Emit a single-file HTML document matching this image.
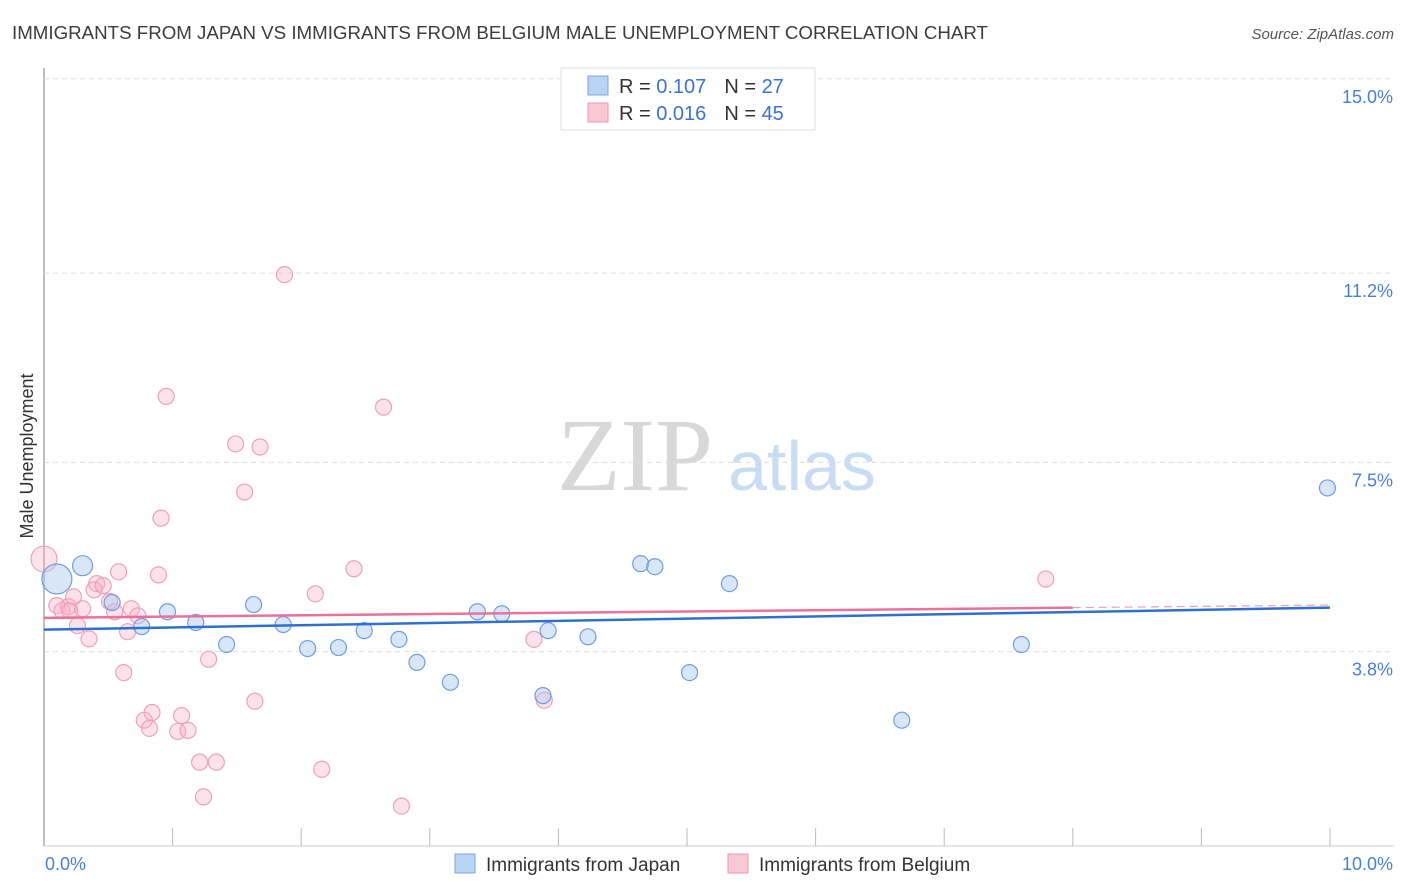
<!DOCTYPE html>
<html><head><meta charset="utf-8">
<style>
body{margin:0;background:#fff;font-family:"Liberation Sans",sans-serif;}
#wrap{position:relative;width:1406px;height:892px;overflow:hidden;}
</style></head>
<body>
<div id="wrap">
<svg id="chart" width="1406" height="892" xmlns="http://www.w3.org/2000/svg">
<text x="12" y="39" font-size="18" fill="#3c3c3c" textLength="976" lengthAdjust="spacingAndGlyphs">IMMIGRANTS FROM JAPAN VS IMMIGRANTS FROM BELGIUM MALE UNEMPLOYMENT CORRELATION CHART</text>
<text x="1394" y="39" font-size="15" fill="#555" font-style="italic" text-anchor="end">Source: ZipAtlas.com</text>
<text transform="translate(33,456) rotate(-90)" font-size="18" fill="#333" text-anchor="middle">Male Unemployment</text>
<g>
<text x="635" y="490" font-size="104" font-family="Liberation Serif,serif" fill="#d8d8d8" text-anchor="middle">ZIP</text>
<text x="802" y="490" font-size="70" fill="#c8dcf3" text-anchor="middle">atlas</text>
</g>
<g id="grid"></g>
<g id="marks"></g>
<g id="trends"></g>
<g>
<rect x="561" y="68" width="254" height="62" fill="#fff" stroke="#ddd"/>
<rect x="588" y="76" width="20" height="19" fill="#b9d3f5" stroke="#7aa6e0"/>
<text x="619" y="93" font-size="20" fill="#333">R = <tspan fill="#3a73d0">0.107</tspan><tspan dx="18">N = </tspan><tspan fill="#3a73d0">27</tspan></text>
<rect x="588" y="103" width="20" height="19" fill="#f9c8d6" stroke="#ec93ae"/>
<text x="619" y="120" font-size="20" fill="#333">R = <tspan fill="#3a73d0">0.016</tspan><tspan dx="18">N = </tspan><tspan fill="#3a73d0">45</tspan></text>
</g>
<g>
<rect x="455" y="854" width="20" height="19" fill="#b9d3f5" stroke="#7aa6e0"/>
<text x="486" y="871" font-size="19" fill="#333">Immigrants from Japan</text>
<rect x="728" y="854" width="20" height="19" fill="#f9c8d6" stroke="#ec93ae"/>
<text x="759" y="871" font-size="19" fill="#333">Immigrants from Belgium</text>
</g>
</svg>
</div>
<script>
const yTicks=[3.8,7.5,11.2,15.0];
const yTickLabels=["3.8%","7.5%","11.2%","15.0%"];
const xTickCount=10;
const japanX=[0.10,0.30,0.53,0.76,0.96,1.18,1.42,1.63,1.86,2.05,2.29,2.49,2.76,2.90,3.16,3.37,3.56,3.88,3.92,4.23,4.64,4.75,5.02,5.33,6.67,7.60,9.98];
const japanY=[5.22,5.48,4.76,4.29,4.58,4.37,3.94,4.72,4.33,3.86,3.88,4.21,4.04,3.59,3.20,4.58,4.54,2.94,4.21,4.09,5.52,5.46,3.39,5.13,2.46,3.94,7.00];
const japanR=[15,10,8,8,8,8,8,8,8,8,8,8,8,8,8,8,8,8,8,8,8,8,8,8,8,8,8];
const belgX=[0.00,0.10,0.14,0.19,0.20,0.23,0.26,0.30,0.35,0.39,0.41,0.46,0.51,0.55,0.58,0.62,0.65,0.68,0.73,0.78,0.84,0.82,0.89,0.91,0.95,1.04,1.07,1.12,1.21,1.24,1.28,1.34,1.49,1.56,1.64,1.68,1.87,2.11,2.16,2.41,2.64,2.78,3.81,3.89,7.79];
const belgY=[5.61,4.70,4.60,4.68,4.60,4.87,4.31,4.64,4.05,5.01,5.13,5.09,4.78,4.58,5.36,3.39,4.19,4.64,4.50,2.46,2.61,2.30,5.30,6.41,8.79,2.24,2.55,2.26,1.64,0.96,3.65,1.64,7.86,6.92,2.83,7.80,11.17,4.93,1.50,5.42,8.58,0.78,4.04,2.85,5.22];
const belgR=[13,8,8,8,8,8,8,8,8,8,8,8,8,8,8,8,8,8,8,8,8,8,8,8,8,8,8,8,8,8,8,8,8,8,8,8,8,8,8,8,8,8,8,8,8];
const japanTrend=[4.23,4.66];
const belgTrend=[4.46,4.66];
const belgTrendEndX=8.0;

const NS="http://www.w3.org/2000/svg";
const X=v=>44+v*128.6;
const Y=v=>846-v*51.15;
function mk(tag,attrs,parent){const e=document.createElementNS(NS,tag);for(const k in attrs)e.setAttribute(k,attrs[k]);parent.appendChild(e);return e;}
const grid=document.getElementById('grid'),marks=document.getElementById('marks'),trends=document.getElementById('trends');
let l=mk('line',{x1:44,y1:68,x2:44,y2:846,stroke:'#aaa','stroke-width':1.5},grid);


l=mk('line',{x1:44,y1:846,x2:1394,y2:846,stroke:'#ccc'},grid);


yTicks.forEach((t,i)=>{
 const g=mk('line',{x1:44,y1:Y(t),x2:1394,y2:Y(t),stroke:'#ddd','stroke-dasharray':'5,4'},grid);
 
 
 const tx=mk('text',{x:1393,y:Y(t)+24,'font-size':18,fill:'#4a7fd4','text-anchor':'end'},grid);
 tx.textContent=yTickLabels[i];
 
 
});
for(let k=1;k<=xTickCount;k++){
 const t=mk('line',{x1:X(k),y1:828,x2:X(k),y2:846,stroke:'#bbb'},grid);
 
 
}
let xl=mk('text',{x:45,y:870,'font-size':18,fill:'#4a7fd4'},grid);xl.textContent='0.0%';


xl=mk('text',{x:1393,y:870,'font-size':18,fill:'#4a7fd4','text-anchor':'end'},grid);xl.textContent='10.0%';


belgX.forEach((v,i)=>{
 const c=mk('circle',{cx:X(v),cy:Y(belgY[i]),r:belgR[i],fill:'rgba(246,176,198,0.35)',stroke:'#f0a0b8','stroke-width':1.2},marks);
 
 
});
japanX.forEach((v,i)=>{
 const c=mk('circle',{cx:X(v),cy:Y(japanY[i]),r:japanR[i],fill:'rgba(170,200,240,0.45)',stroke:'#6f9ee0','stroke-width':1.2},marks);
 
 
});
const bAt=x=>belgTrend[0]+(belgTrend[1]-belgTrend[0])*x/belgTrendEndX;
let tl=mk('line',{x1:X(0),y1:Y(japanTrend[0]),x2:X(10),y2:Y(japanTrend[1]),stroke:'#2f6fd0','stroke-width':2.5},trends);


tl=mk('line',{x1:X(0),y1:Y(belgTrend[0]),x2:X(belgTrendEndX),y2:Y(belgTrend[1]),stroke:'#e9719a','stroke-width':2.5},trends);


tl=mk('line',{x1:X(belgTrendEndX),y1:Y(belgTrend[1]),x2:X(10),y2:Y(bAt(10)),stroke:'#e9a0b8','stroke-width':1.2,'stroke-dasharray':'8,5'},trends);


</script>
</body></html>
